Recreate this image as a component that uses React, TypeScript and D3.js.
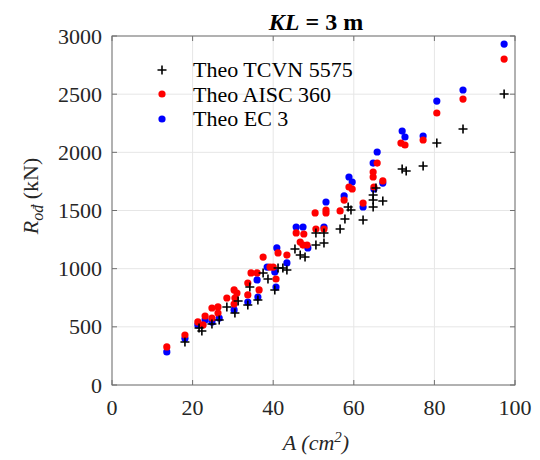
import React from "react";
import * as d3 from "d3";

// Theo TCVN 5575 (black plus)
const tcvnA = [18.1, 21.6, 22.3, 24.8, 26.6, 28.5, 30.5, 31.3, 34.2, 33.7, 36.2, 37.5, 38.7, 40.4, 41.2, 42.4, 43.4, 45.4, 46.7, 47.9, 50.6, 52.6, 50.6, 52.6, 56.6, 57.8, 58.6, 59.3, 62.3, 64.8, 64.8, 64.8, 67.2, 65.5, 72.0, 73.0, 77.2, 80.6, 87.1, 97.3];
const tcvnR = [370, 490, 464, 524, 559, 671, 619, 722, 842, 688, 731, 963, 911, 817, 1006, 1006, 989, 1169, 1118, 1100, 1307, 1307, 1203, 1221, 1341, 1427, 1530, 1504, 1418, 1633, 1590, 1530, 1582, 1693, 1857, 1840, 1883, 2080, 2200, 2502];

// Theo AISC 360 (red)
const aiscA = [13.6, 18.1, 21.3, 22.6, 23.1, 24.8, 24.8, 26.3, 26.3, 28.5, 30.3, 30.3, 31.0, 30.5, 33.7, 33.7, 34.5, 36.0, 36.5, 37.5, 39.2, 40.0, 41.2, 43.4, 40.7, 45.7, 47.6, 46.7, 47.4, 48.4, 53.1, 53.1, 50.4, 52.6, 50.6, 56.6, 58.8, 59.6, 57.6, 62.3, 64.8, 64.8, 65.8, 67.2, 65.0, 71.7, 72.7, 77.2, 80.6, 87.1, 97.3];
const aiscR = [327, 430, 542, 516, 593, 662, 576, 671, 619, 748, 817, 696, 791, 748, 877, 774, 963, 963, 817, 1100, 1014, 1014, 1135, 1117, 911, 1307, 1298, 1229, 1203, 1203, 1504, 1479, 1479, 1341, 1341, 1496, 1702, 1685, 1590, 1564, 1831, 1788, 1908, 1754, 1702, 2080, 2063, 2106, 2338, 2458, 2802];

// Theo EC 3 (blue)
const ec3A = [13.6, 18.1, 21.3, 23.1, 24.8, 26.6, 30.3, 33.7, 36.0, 36.2, 38.5, 40.4, 40.9, 43.4, 40.7, 45.7, 47.4, 48.6, 53.1, 52.6, 58.8, 59.6, 57.6, 62.3, 65.8, 64.8, 67.2, 65.0, 72.0, 72.7, 77.2, 80.6, 87.1, 97.3];
const ec3R = [284, 400, 516, 559, 542, 576, 645, 713, 903, 756, 1014, 971, 1178, 1049, 842, 1358, 1358, 1178, 1573, 1358, 1788, 1745, 1625, 1530, 2003, 1908, 1736, 1685, 2183, 2132, 2140, 2441, 2536, 2931];

const xTicks = [0, 20, 40, 60, 80, 100];
const yTicks = [0, 500, 1000, 1500, 2000, 2500, 3000];
const legendLabels = ["Theo TCVN 5575", "Theo AISC 360", "Theo EC 3"];

const W = 540, H = 460;
const L = 112, R = 515, T = 36, B = 385;
const FONT = '"Liberation Serif", "DejaVu Serif", "Times New Roman", Times, serif';

export default function App() {
  const x = d3.scaleLinear().domain([0, 100]).range([L, R]);
  const y = d3.scaleLinear().domain([0, 3000]).range([B, T]);
  const plus = "M-4.5,0H4.5M0,-4.5V4.5";
  const axisColor = "#707070";
  const tl = 5;

  return (
    <svg width={W} height={H} style={{ position: "absolute", left: 0, top: 0, background: "#fff", fontFamily: FONT }}>
      <rect x={0} y={0} width={W} height={H} fill="#fff" />
      {/* grid */}
      {xTicks.map((t) => (
        <line key={"gx" + t} x1={x(t)} x2={x(t)} y1={T} y2={B} stroke="#e6e6e6" strokeWidth={1} />
      ))}
      {yTicks.map((t) => (
        <line key={"gy" + t} x1={L} x2={R} y1={y(t)} y2={y(t)} stroke="#e6e6e6" strokeWidth={1} />
      ))}
      {/* box */}
      <rect x={L} y={T} width={R - L} height={B - T} fill="none" stroke={axisColor} strokeWidth={1} />
      {/* ticks */}
      {xTicks.map((t) => (
        <g key={"tx" + t}>
          <line x1={x(t)} x2={x(t)} y1={B} y2={B - tl} stroke={axisColor} />
          <line x1={x(t)} x2={x(t)} y1={T} y2={T + tl} stroke={axisColor} />
          <text x={x(t)} y={415} fontSize={22} textAnchor="middle" fill="#262626" style={{ fontFamily: FONT }}>{t}</text>
        </g>
      ))}
      {yTicks.map((t) => (
        <g key={"ty" + t}>
          <line x1={L} x2={L + tl} y1={y(t)} y2={y(t)} stroke={axisColor} />
          <line x1={R} x2={R - tl} y1={y(t)} y2={y(t)} stroke={axisColor} />
          <text x={102} y={y(t) + 7.5} fontSize={22} textAnchor="end" fill="#262626" style={{ fontFamily: FONT }}>{t}</text>
        </g>
      ))}
      {/* data */}
      {ec3A.map((a, i) => (
        <circle key={"e" + i} cx={x(a)} cy={y(ec3R[i])} r={3.6} fill="#0000ff" />
      ))}
      {aiscA.map((a, i) => (
        <circle key={"a" + i} cx={x(a)} cy={y(aiscR[i])} r={3.6} fill="#ff0000" />
      ))}
      {tcvnA.map((a, i) => (
        <path key={"t" + i} d={plus} transform={`translate(${x(a)},${y(tcvnR[i])})`} stroke="#000" strokeWidth={1.6} fill="none" />
      ))}
      {/* legend */}
      <path d={plus} transform="translate(162,70)" stroke="#000" strokeWidth={1.6} />
      <circle cx={162} cy={94} r={3.6} fill="#ff0000" />
      <circle cx={162} cy={119} r={3.6} fill="#0000ff" />
      {legendLabels.map((s, i) => (
        <text key={s} x={193} y={70 + i * 24.5 + 7} fontSize={22} fill="#000" style={{ fontFamily: FONT }}>{s}</text>
      ))}
      {/* title */}
      <text x={316} y={30} fontSize={24} fontWeight="bold" textAnchor="middle" fill="#000" style={{ fontFamily: FONT }}>
        <tspan fontStyle="italic">KL</tspan> = 3 m
      </text>
      {/* x label */}
      <text x={316} y={450} fontSize={22} textAnchor="middle" fontStyle="italic" fill="#262626" style={{ fontFamily: FONT }}>
        A (cm<tspan dy={-8} fontSize={15}>2</tspan><tspan dy={8}>)</tspan>
      </text>
      {/* y label */}
      <text transform="translate(38,196) rotate(-90)" fontSize={22} textAnchor="middle" fill="#262626" style={{ fontFamily: FONT }}>
        <tspan fontStyle="italic">R</tspan>
        <tspan fontStyle="italic" fontSize={16} dy={5}>ođ</tspan>
        <tspan dy={-5}> (kN)</tspan>
      </text>
    </svg>
  );
}
